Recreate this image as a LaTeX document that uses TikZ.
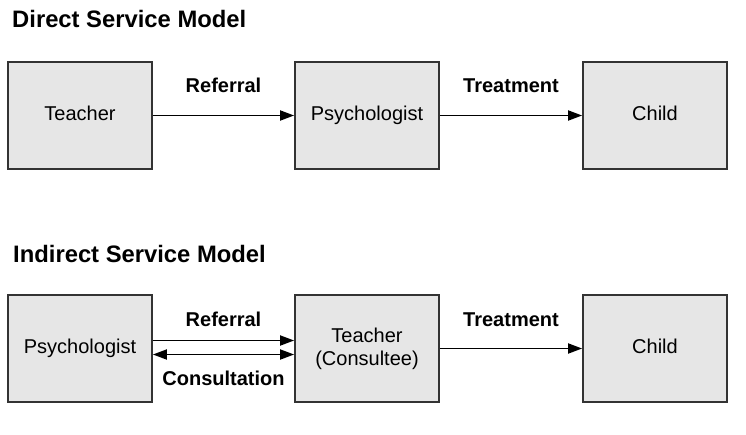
\documentclass[tikz,border=0pt]{standalone}
\usepackage{fontspec}
\setmainfont{Liberation Sans}
\usetikzlibrary{arrows.meta}
\definecolor{boxfill}{HTML}{E6E6E6}
\definecolor{boxline}{HTML}{333333}
\tikzset{
  boxshape/.style={draw=boxline, fill=boxfill, line width=1.8pt, minimum width=144pt, minimum height=107pt, inner sep=0pt},
  box/.style={boxshape, text height=14pt, text depth=5pt, font=\fontsize{20}{23}\selectfont},
  boxtext/.style={align=center, inner sep=0pt, font=\fontsize{20}{23}\selectfont},
  arr/.style={line width=1.8pt, draw=black, -{Triangle[length=14pt,width=10pt]}},
  darr/.style={line width=1.8pt, draw=black, {Triangle[length=14pt,width=10pt]}-{Triangle[length=14pt,width=10pt]}},
  lbl/.style={anchor=base, font=\fontsize{20}{23}\selectfont\bfseries, inner sep=0pt},
  ttl/.style={anchor=base west, font=\fontsize{23.8}{26}\selectfont\bfseries, inner sep=0pt}
}
\begin{document}
\begin{tikzpicture}[x=1pt,y=-1pt]
\useasboundingbox (0,0) rectangle (746,434);
\fill[white] (0,0) rectangle (746,434);
\node[ttl] (title1) at (12,27) {Direct Service Model};
\node[box] (t1) at (80,115.5) {Teacher};
\node[box] (p1) at (367,115.5) {Psychologist};
\node[box] (c1) at (655,115.5) {Child};
\draw[arr] (t1.east) -- (p1.west);
\draw[arr] (p1.east) -- (c1.west);
\node[lbl] (ref1) at (223.5,92.7) {Referral};
\node[lbl] (tr1) at (511,92.7) {Treatment};

\node[ttl] (title2) at (13,262) {Indirect Service Model};
\node[box] (p2) at (80,348.5) {Psychologist};
\node[boxshape] (t2) at (367,348.5) {};
\node[boxtext] (t2text) at (t2.center) {Teacher\\(Consultee)};
\node[box] (c2) at (655,348.5) {Child};
\draw[arr] ([yshift=8pt]p2.east) -- ([yshift=8pt]t2.west);
\draw[darr] ([yshift=-6pt]p2.east) -- ([yshift=-6pt]t2.west);
\draw[arr] (t2.east) -- (c2.west);
\node[lbl] (ref2) at (223.5,326) {Referral};
\node[lbl] (cons2) at (223.5,385) {Consultation};
\node[lbl] (tr2) at (511,326) {Treatment};
\end{tikzpicture}
\end{document}
